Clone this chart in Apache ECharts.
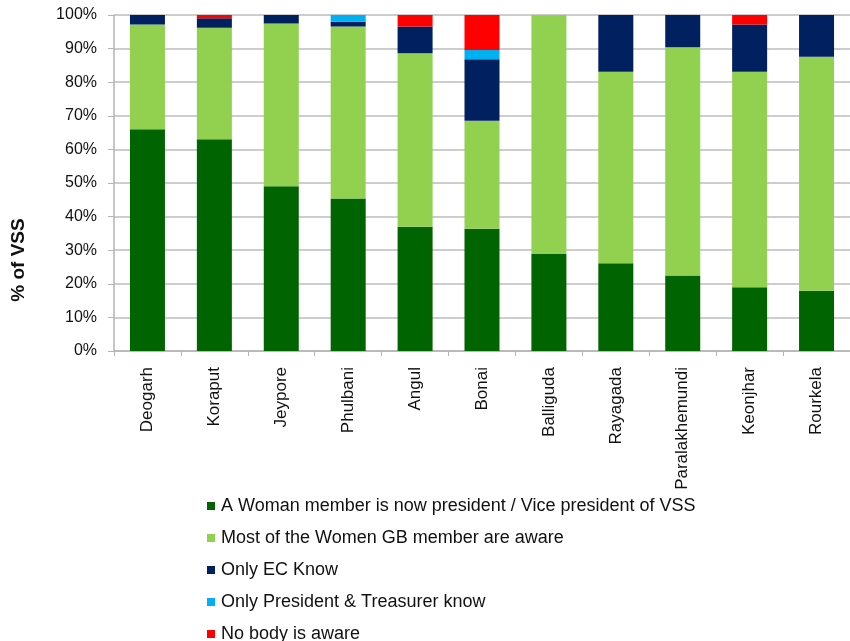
<!DOCTYPE html>
<html>
<head>
<meta charset="utf-8">
<script src="https://cdn.jsdelivr.net/npm/echarts@6/dist/echarts.min.js"></script>
<style>
  html, body { margin: 0; padding: 0; background: #fff; }
  #main { width: 850px; height: 641px; }
</style>
</head>
<body>
<div id="main"></div>
<script>
// 数据
var categories = ['Deogarh', 'Koraput', 'Jeypore', 'Phulbani', 'Angul', 'Bonai', 'Balliguda', 'Rayagada', 'Paralakhemundi', 'Keonjhar', 'Rourkela'];
var seriesNames = [
  'A Woman member is now president / Vice president of VSS',
  'Most of the Women GB member are aware',
  'Only EC Know',
  'Only President & Treasurer know',
  'No body is aware'
];
var womanPresident = [66, 63, 49, 45.4, 37, 36.4, 28.9, 26.1, 22.5, 19, 17.9];
var mostAware      = [31.2, 33.2, 48.5, 51.2, 51.6, 32.1, 71.1, 57, 67.9, 64.1, 69.7];
var onlyEC         = [2.8, 2.8, 2.5, 1.4, 8, 18.3, 0, 16.9, 9.6, 14.1, 12.4];
var onlyPresTreas  = [0, 0, 0, 2, 0, 2.8, 0, 0, 0, 0, 0];
var nobodyAware    = [0, 1, 0, 0, 3.4, 10.4, 0, 0, 0, 2.8, 0];
var yTicks = [0, 10, 20, 30, 40, 50, 60, 70, 80, 90, 100];

var colorList = ['#006400', '#92D050', '#002060', '#00B0F0', '#FF0000'];
var dataList = [womanPresident, mostAware, onlyEC, onlyPresTreas, nobodyAware];
var fontName = '"Liberation Sans", Arial, sans-serif';

var chart = echarts.init(document.getElementById('main'));

var series = [];
for (var i = 0; i < dataList.length; i++) {
  series.push({
    name: seriesNames[i],
    type: 'bar',
    stack: 'vss',
    barWidth: 35,
    data: dataList[i],
    itemStyle: { color: colorList[i] }
  });
}

var option = {
  animation: false,
  textStyle: { fontFamily: fontName },
  color: colorList,
  grid: { left: 114, top: 15, width: 748, height: 336 },
  xAxis: {
    type: 'category',
    data: categories,
    axisLine: { lineStyle: { color: '#b4b4b4', width: 1.5 } },
    axisTick: { show: true, length: 5, lineStyle: { color: '#b4b4b4' } },
    axisLabel: { rotate: 90, margin: 16, color: '#111', fontSize: 17, fontFamily: fontName }
  },
  yAxis: {
    type: 'value',
    min: yTicks[0],
    max: yTicks[yTicks.length - 1],
    interval: 10,
    axisLine: { show: true, lineStyle: { color: '#b4b4b4', width: 1.5 } },
    axisTick: { show: true, length: 6, lineStyle: { color: '#b4b4b4' } },
    axisLabel: { formatter: '{value}%', margin: 17, color: '#111', fontSize: 16, fontFamily: fontName },
    splitLine: { lineStyle: { color: '#bdbdbd', width: 1.5 } }
  },
  legend: {
    orient: 'vertical',
    left: 207,
    top: 496,
    height: 150,
    padding: 0,
    icon: 'rect',
    itemWidth: 8,
    itemHeight: 8,
    itemGap: 12,
    selectedMode: false,
    data: seriesNames,
    textStyle: { fontSize: 18, lineHeight: 20, color: '#111', fontFamily: fontName, padding: [0, 0, 0, 1] }
  },
  graphic: [{
    type: 'text',
    x: 19,
    y: 260,
    rotation: Math.PI / 2,
    style: {
      text: '% of VSS',
      fontSize: 19,
      fontWeight: 'bold',
      fontFamily: fontName,
      fill: '#111',
      align: 'center',
      verticalAlign: 'middle'
    }
  }],
  series: series
};
chart.setOption(option);
</script>
</body>
</html>
